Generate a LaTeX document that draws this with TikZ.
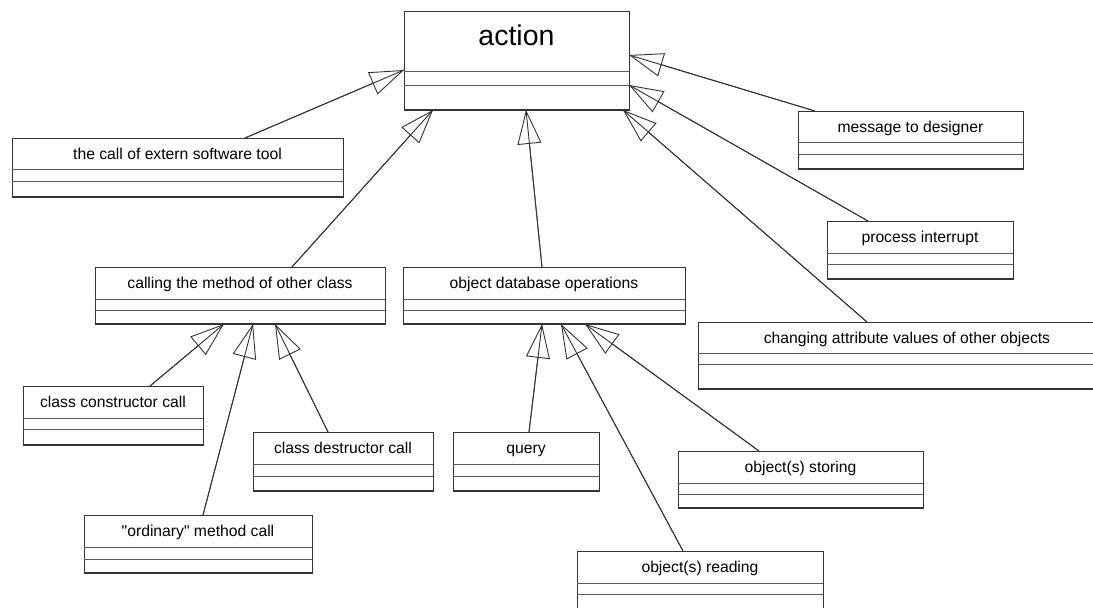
\documentclass[tikz,border=0pt]{standalone}
\usepackage{fontspec}
\setmainfont{Liberation Sans}
% family without TeX ligature mapping, so " stays a straight quote
\newfontfamily\umlfont{Liberation Sans}
\usetikzlibrary{arrows.meta,calc}

\definecolor{edge}{HTML}{333333}
\definecolor{rule}{HTML}{5A5A5A}

\tikzset{
  classbox/.style={draw=edge, line width=0.9pt, fill=white, inner sep=0pt,
    outer sep=0pt, anchor=north west},
  compline/.style={draw=rule, line width=0.9pt},
  boxfoot/.style={draw=edge, line width=1.6pt},
  classname/.style={font=\umlfont\fontsize{15.7}{18}\selectfont, anchor=base, inner sep=0pt},
  titlename/.style={classname, font=\umlfont\fontsize{28.5}{34}\selectfont, yshift=-12.5pt},
  gen/.style={draw=edge, line width=0.9pt,
    -{Triangle[open, length=34pt, width=24pt]},
    postaction={draw, arrows=-}},
}

% UML class box: [name style]{node}{left}{top}{right}{bottom}{rule 1}{rule 2}{class name}
\newcommand\umlclass[9][classname]{%
  \node[classbox, minimum width={(#5)-(#3)}, minimum height={(#6)-(#4)}] (#2) at (#3,#4) {};
  \draw[compline] (#3,#7) -- (#5,#7);
  \draw[compline] (#3,#8) -- (#5,#8);
  \draw[boxfoot] (#3,#6) -- (#5,#6);
  \node[#1] (#2-name) at ({((#3)+(#5))/2},{(#4)+21.5}) {#9};
}

\begin{document}
\begin{tikzpicture}[x=1pt, y=-1pt]
  \path[use as bounding box, clip] (0,0) rectangle (1093,608);

  % class boxes
  \umlclass[titlename]{action}{404}{11}{629}{110}{71}{85}{action}
  \umlclass{tool}{12}{138}{343}{197}{169}{181}{the call of extern software tool}
  \umlclass{msg}{798}{111}{1023}{169}{142}{154}{message to designer}
  \umlclass{intr}{827}{221}{1013}{279}{253}{264}{process interrupt}
  \umlclass{chg}{698}{322}{1116}{389}{353}{364}{changing attribute values of other objects}
  \umlclass{call}{95}{267}{385}{324}{299}{310}{calling the method of other class}
  \umlclass{odb}{403}{267}{685}{324}{299}{310}{object database operations}
  \umlclass{ctor}{23}{386}{203}{445}{418}{429}{class constructor call}
  \umlclass{dtor}{253}{432}{433}{491}{464}{476}{class destructor call}
  \umlclass{ord}{84}{515}{312}{573}{547}{559}{"ordinary" method call}
  \umlclass{query}{453}{432}{599}{491}{464}{476}{query}
  \umlclass{store}{678}{451}{923}{508}{483}{494}{object(s) storing}
  \umlclass{read}{577}{551}{823}{610}{583}{594}{object(s) reading}

  % generalisations towards "action"
  \draw[gen] ($(tool.north west)+(233,0)$) -- ($(action.north west)+(0,59)$);
  \draw[gen] ($(msg.north west)+(17,0)$) -- ($(action.north east)+(0,44)$);
  \draw[gen] ($(intr.north west)+(41,0)$) -- ($(action.north east)+(0,74)$);
  \draw[gen] ($(chg.north west)+(169,0)$) -- ($(action.south east)+(-6,0)$);
  \draw[gen] ($(odb.north west)+(139,0)$) -- ($(action.south west)+(122,0)$);
  \draw[gen] ($(call.north west)+(197,0)$) -- ($(action.south west)+(29,0)$);

  % generalisations towards "calling the method of other class"
  \draw[gen] ($(ctor.north west)+(127,0)$) -- ($(call.south west)+(129,0)$);
  \draw[gen] ($(ord.north west)+(119,0)$) -- ($(call.south west)+(158,0)$);
  \draw[gen] ($(dtor.north west)+(75,0)$) -- ($(call.south west)+(180,0)$);

  % generalisations towards "object database operations"
  \draw[gen] ($(query.north west)+(76,0)$) -- ($(odb.south west)+(139,0)$);
  \draw[gen] ($(read.north west)+(106,0)$) -- ($(odb.south west)+(158,0)$);
  \draw[gen] ($(store.north west)+(81,0)$) -- ($(odb.south west)+(182,0)$);
\end{tikzpicture}
\end{document}
